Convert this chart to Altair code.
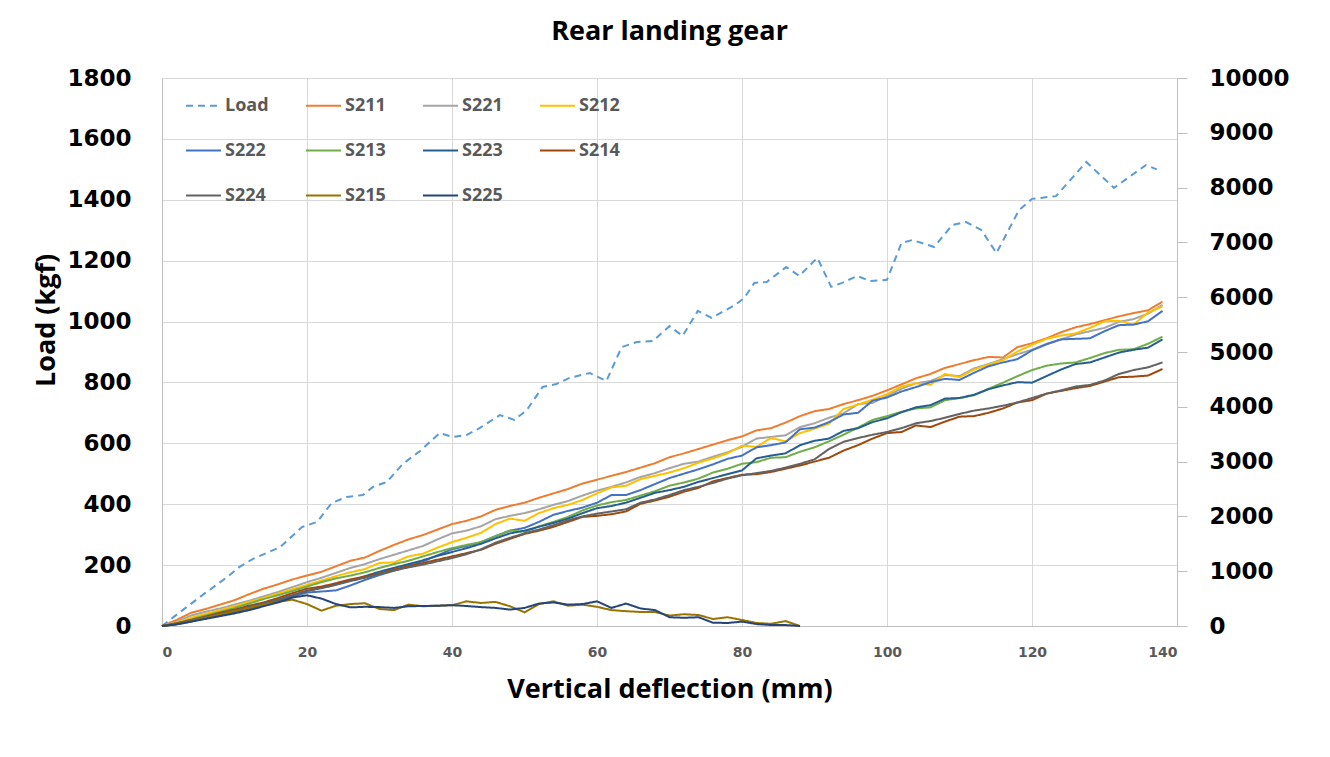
import altair as alt
import pandas as pd

# ---------------- data ----------------
X_STEP = list(range(0, 140, 2))      # 0..138 mm
X_FALL = list(range(0, 90, 2))       # 0..88 mm

LOAD_X = [0, 2.5, 5.6, 9.0, 10.7, 12.5, 16.3, 19.3, 21.4, 23.4, 25.5, 27.7, 29.1, 31.0,
          33.2, 35.6, 38.3, 40.1, 42.0, 43.8, 46.6, 48.6, 50.3, 52.5, 54.4, 56.2, 59.0,
          61.3, 63.4, 65.5, 67.7, 70.0, 71.8, 73.9, 75.8, 79.0, 80.3, 81.7, 83.4, 86.1,
          87.9, 90.4, 92.3, 93.8, 95.9, 97.6, 100.0, 102.0, 103.5, 106.5, 109.0, 110.9,
          113.0, 115.1, 118.2, 120.0, 123.3, 127.5, 131.3, 135.7, 137.2]
LOAD_Y = [0, 46, 102, 161, 194, 220, 259, 325, 342, 404, 424, 430, 457, 473,
          532, 575, 634, 621, 627, 650, 693, 677, 709, 785, 795, 815, 831,
          805, 916, 933, 936, 985, 953, 1035, 1012, 1054, 1077, 1127, 1130, 1179,
          1150, 1209, 1114, 1127, 1150, 1133, 1137, 1258, 1268, 1245, 1317, 1327,
          1301, 1225, 1366, 1403, 1412, 1524, 1439, 1514, 1500]

S211 = [0, 110, 240, 310, 390, 470, 580, 680, 760, 850,
        920, 990, 1090, 1190, 1250, 1370, 1480, 1580, 1660, 1760,
        1860, 1920, 2000, 2120, 2190, 2250, 2340, 2420, 2500, 2600,
        2670, 2740, 2810, 2890, 2970, 3080, 3150, 3230, 3310, 3390,
        3460, 3570, 3610, 3710, 3830, 3920, 3960, 4050, 4120, 4200,
        4300, 4410, 4520, 4600, 4710, 4780, 4850, 4910, 4900, 5090,
        5160, 5250, 5360, 5450, 5510, 5580, 5650, 5710, 5760, 5920]
S221 = [0, 80, 190, 260, 320, 390, 460, 540, 620, 710,
        800, 880, 970, 1060, 1130, 1220, 1300, 1380, 1460, 1580,
        1690, 1740, 1820, 1950, 2010, 2060, 2130, 2210, 2280, 2380,
        2470, 2540, 2620, 2720, 2790, 2880, 2960, 3000, 3090, 3170,
        3270, 3420, 3450, 3480, 3630, 3700, 3800, 3880, 4050, 4070,
        4200, 4330, 4430, 4470, 4580, 4560, 4700, 4780, 4870, 4960,
        5040, 5150, 5230, 5320, 5380, 5440, 5550, 5600, 5700, 5860]
S212 = [0, 60, 150, 220, 290, 360, 440, 510, 590, 670,
        750, 830, 910, 980, 1040, 1150, 1160, 1270, 1320, 1430,
        1530, 1610, 1700, 1860, 1960, 1920, 2060, 2150, 2210, 2300,
        2420, 2530, 2560, 2680, 2740, 2800, 2880, 2980, 3060, 3150,
        3290, 3270, 3430, 3370, 3520, 3600, 3690, 3960, 4040, 4130,
        4230, 4370, 4430, 4400, 4600, 4540, 4680, 4770, 4850, 5010,
        5130, 5240, 5300, 5340, 5440, 5560, 5570, 5500, 5720, 5830]
S222 = [0, 40, 90, 140, 190, 250, 320, 380, 460, 540,
        610, 630, 650, 740, 840, 930, 1010, 1100, 1180, 1290,
        1400, 1460, 1530, 1640, 1740, 1790, 1900, 2030, 2100, 2160,
        2250, 2390, 2390, 2480, 2590, 2700, 2780, 2860, 2950, 3050,
        3110, 3260, 3300, 3350, 3590, 3620, 3720, 3860, 3890, 4110,
        4170, 4280, 4360, 4450, 4510, 4490, 4620, 4740, 4810, 4870,
        5030, 5140, 5230, 5240, 5250, 5380, 5490, 5500, 5560, 5750]
S213 = [0, 50, 120, 190, 260, 330, 410, 490, 560, 640,
        720, 800, 870, 920, 980, 1060, 1130, 1190, 1270, 1350,
        1420, 1480, 1530, 1640, 1740, 1720, 1820, 1900, 1990, 2110,
        2200, 2260, 2300, 2380, 2460, 2560, 2620, 2690, 2800, 2870,
        2960, 2990, 3070, 3080, 3180, 3260, 3370, 3490, 3620, 3760,
        3830, 3910, 3970, 3990, 4120, 4160, 4210, 4330, 4440, 4560,
        4670, 4750, 4790, 4810, 4890, 4980, 5040, 5050, 5150, 5280]
S223 = [0, 30, 80, 140, 200, 260, 330, 400, 480, 560,
        640, 700, 760, 830, 910, 990, 1060, 1130, 1200, 1280,
        1350, 1420, 1500, 1600, 1690, 1740, 1810, 1880, 1960, 2060,
        2150, 2190, 2250, 2340, 2430, 2480, 2540, 2630, 2700, 2770,
        2840, 3060, 3110, 3150, 3300, 3380, 3420, 3560, 3610, 3720,
        3790, 3900, 3990, 4030, 4150, 4160, 4220, 4320, 4390, 4450,
        4440, 4560, 4680, 4780, 4810, 4900, 4990, 5040, 5080, 5230]
S214 = [0, 50, 110, 170, 240, 300, 370, 430, 510, 600,
        680, 720, 780, 850, 900, 960, 1030, 1090, 1150, 1210,
        1270, 1330, 1390, 1500, 1590, 1680, 1740, 1810, 1900, 1990,
        2010, 2040, 2090, 2230, 2290, 2360, 2450, 2520, 2640, 2700,
        2760, 2770, 2810, 2870, 2930, 3000, 3070, 3200, 3300, 3420,
        3520, 3540, 3660, 3630, 3730, 3820, 3830, 3890, 3970, 4080,
        4120, 4240, 4290, 4340, 4380, 4460, 4540, 4550, 4570, 4690]
S224 = [0, 40, 100, 160, 220, 280, 350, 410, 480, 560,
        640, 690, 750, 820, 880, 950, 1010, 1070, 1120, 1180,
        1240, 1310, 1400, 1520, 1610, 1690, 1760, 1840, 1930, 2000,
        2050, 2090, 2130, 2250, 2310, 2390, 2480, 2540, 2610, 2690,
        2750, 2790, 2830, 2890, 2960, 3040, 3230, 3360, 3430, 3490,
        3540, 3610, 3700, 3740, 3800, 3870, 3930, 3970, 4020, 4080,
        4160, 4240, 4300, 4370, 4400, 4480, 4600, 4670, 4720, 4810]
S215 = [0, 35, 90, 150, 210, 270, 330, 390, 440, 480,
        400, 280, 370, 400, 415, 310, 290, 390, 360, 370,
        380, 450, 420, 440, 360, 250, 400, 450, 370, 390,
        350, 290, 270, 256, 256, 190, 215, 200, 128, 160,
        110, 55, 40, 90, 0]
S225 = [0, 30, 80, 130, 180, 230, 290, 360, 430, 520,
        560, 500, 400, 340, 350, 345, 330, 360, 365, 370,
        380, 365, 345, 330, 300, 330, 410, 430, 390, 400,
        450, 330, 410, 320, 290, 160, 150, 160, 60, 55,
        80, 35, 18, 18, 0]

SERIES = ["Load", "S211", "S221", "S212", "S222", "S213", "S223", "S214", "S224", "S215", "S225"]
COLORS = ["#5B9BD5", "#ED7D31", "#A5A5A5", "#FFC000", "#4472C4", "#70AD47",
          "#255E91", "#9E480E", "#636363", "#997300", "#264478"]
DASHES = [[7, 5]] + [[1, 0]] * 10

strain_lists = [("S211", S211), ("S221", S221), ("S212", S212), ("S222", S222),
                ("S213", S213), ("S223", S223), ("S214", S214), ("S224", S224),
                ("S215", S215), ("S225", S225)]
rows = []
for name, vals in strain_lists:
    xs = X_STEP if len(vals) == len(X_STEP) else X_FALL
    assert len(xs) == len(vals), name
    for xv, yv in zip(xs, vals):
        rows.append({"x": xv, "value": yv, "series": name})
strain_df = pd.DataFrame(rows)
load_df = pd.DataFrame({"x": LOAD_X, "value": LOAD_Y, "series": ["Load"] * len(LOAD_X)})

# ---------------- encodings ----------------
legend = alt.Legend(title=None, orient="none", legendX=23, legendY=9, columns=4,
                    direction="horizontal",
                    columnPadding=33, rowPadding=17, symbolType="stroke", symbolSize=1225,
                    symbolStrokeWidth=2, labelFont="Open Sans", labelFontSize=18,
                    labelFontWeight="bold", labelColor="#595959", labelOffset=3, padding=0)
color = alt.Color("series:N", scale=alt.Scale(domain=SERIES, range=COLORS), legend=legend)
dash = alt.StrokeDash("series:N", scale=alt.Scale(domain=SERIES, range=DASHES), legend=legend)

x_enc = alt.X("x:Q", scale=alt.Scale(domain=[0, 140], nice=False),
              axis=alt.Axis(values=list(range(0, 141, 20)), title="Vertical deflection (mm)",
                            format="d",
                            grid=True, gridColor="#D9D9D9", domainColor="#BFBFBF",
                            ticks=False, tickSize=0, labelPadding=19,
                            labelFont="DejaVu Sans", labelFontSize=14, labelFontWeight="bold",
                            labelColor="#595959", titleFont="Open Sans", titleFontSize=27,
                            titleFontWeight="bold", titleColor="#000000", titlePadding=17))

y_left = alt.Y("value:Q", scale=alt.Scale(domain=[0, 1800], nice=False),
               axis=alt.Axis(orient="left", values=list(range(0, 1801, 200)), format="d",
                             grid=True,
                             gridColor="#D9D9D9", domainColor="#BFBFBF", ticks=False,
                             tickSize=0, labelPadding=31, labelFont="DejaVu Sans",
                             labelFontSize=23, labelFontWeight="bold", labelColor="#000000",
                             title="Load (kgf)", titleFont="Open Sans", titleFontSize=27,
                             titleFontWeight="bold", titleColor="#000000",
                             titleX=-116, titleY=242, titleAngle=270,
                             titleBaseline="middle", titleAlign="center"))

y_right = alt.Y("value:Q", scale=alt.Scale(domain=[0, 10000], nice=False),
                axis=alt.Axis(orient="right", values=list(range(0, 10001, 1000)), format="d",
                              grid=False,
                              domainColor="#BFBFBF", ticks=True, tickSize=10,
                              tickColor="#BFBFBF", labelPadding=22, labelFont="DejaVu Sans",
                              labelFontSize=23, labelFontWeight="bold",
                              labelColor="#000000", title=None))

load_layer = alt.Chart(load_df).mark_line(strokeWidth=2).encode(
    x=x_enc, y=y_left, color=color, strokeDash=dash)
strain_layer = alt.Chart(strain_df).mark_line(strokeWidth=2).encode(
    x=x_enc, y=y_right, color=color, strokeDash=dash)

chart = alt.layer(load_layer, strain_layer).resolve_scale(y="independent").properties(
    width=1015, height=548,
    autosize=alt.AutoSizeParams(type="none"),
    padding={"left": 154, "top": 70, "right": 145, "bottom": 123},
    title=alt.Title("Rear landing gear", font="Open Sans", fontSize=27, fontWeight="bold",
                    color="#000000", anchor="middle", offset=21),
    background="white",
).configure_view(stroke=None)

chart.save("out.html", embed_options={"renderer": "svg", "actions": False})
